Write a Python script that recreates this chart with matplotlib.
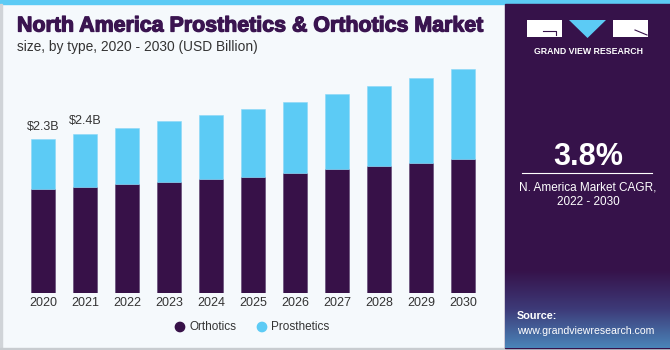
import numpy as np
import matplotlib.pyplot as plt
import matplotlib.patheffects as pe
from matplotlib.patches import Rectangle, Polygon
from matplotlib.colors import LinearSegmentedColormap

years = ['2020', '2021', '2022', '2023', '2024', '2025', '2026', '2027', '2028', '2029', '2030']
orthotics = [1.56, 1.59, 1.63, 1.66, 1.71, 1.74, 1.80, 1.85, 1.90, 1.95, 2.01]
prosthetics = [0.74, 0.79, 0.84, 0.91, 0.95, 1.02, 1.06, 1.13, 1.20, 1.27, 1.34]
bar_labels = {0: '$2.3B', 1: '$2.4B'}

DARK = '#371148'
BLUE = '#5ccbf5'
BG = '#f5f9fc'

plt.rcParams['font.family'] = ['Liberation Sans', 'DejaVu Sans']

W, H = 670, 350
fig = plt.figure(figsize=(W / 100, H / 100), dpi=100, facecolor=BG)

# background / decoration layer in pixel coords
bg = fig.add_axes([0, 0, 1, 1])
bg.set_xlim(0, W)
bg.set_ylim(H, 0)
bg.axis('off')
bg.add_patch(Rectangle((0, 0), W, 4, color=BLUE))
bg.add_patch(Rectangle((0, 4), 2, H - 4, color='#d0d4d8'))
bg.add_patch(Rectangle((0, H - 2), W, 2, color='#c8ccd0'))

# right panel
bg.add_patch(Rectangle((505, 4), 165, H - 6, color='#36124a'))
grad = np.linspace(0, 1, 100).reshape(-1, 1)
cm = LinearSegmentedColormap.from_list('p', ['#36124a', '#3d3a78', '#4a84b8'])
bg.imshow(grad, extent=(505, 670, H - 2, 270), cmap=cm, aspect='auto', zorder=1)

# logo
bg.add_patch(Rectangle((527, 20), 35, 17, facecolor='white', edgecolor='none', zorder=2))
bg.add_patch(Polygon([(569, 20), (606, 20), (587.5, 38)], facecolor=BLUE, edgecolor='none', zorder=2))
bg.add_patch(Rectangle((613, 20), 35, 17, facecolor='white', edgecolor='none', zorder=2))
bg.plot([543, 556, 556], [31, 31, 35], color='#36124a', lw=0.8, zorder=3)
bg.plot([635, 647], [30, 35], color='#36124a', lw=0.8, zorder=3)
bg.text(588, 51, 'GRAND VIEW RESEARCH', color='white', fontsize=6.3, fontweight='bold',
        ha='center', va='center', zorder=3)

bg.text(588, 157, '3.8%', color='white', fontsize=22, fontweight='bold', ha='center', va='center', zorder=3)
bg.plot([522, 652], [173, 173], color='white', lw=0.8, zorder=3)
bg.text(588, 187, 'N. America Market CAGR,', color='white', fontsize=8.5, ha='center', va='center', zorder=3)
bg.text(588, 202, '2022 - 2030', color='white', fontsize=8.5, ha='center', va='center', zorder=3)
bg.text(517, 316, 'Source:', color='white', fontsize=7.8, fontweight='bold', ha='left', va='center', zorder=3)
bg.text(517, 331, 'www.grandviewresearch.com', color='white', fontsize=7.6, ha='left', va='center', zorder=3)

# titles
bg.text(17, 26, 'North America Prosthetics & Orthotics Market', color='#3a1450', fontsize=15.4,
        fontweight='bold', ha='left', va='center',
        path_effects=[pe.withStroke(linewidth=0.9, foreground='#3a1450')])
bg.text(17, 47, 'size, by type, 2020 - 2030 (USD Billion)', color='#333333', fontsize=9.9,
        ha='left', va='center')

# legend
bg.scatter([180, 262], [327, 327], s=45, color=[DARK, BLUE], zorder=3)
bg.text(189, 327, 'Orthotics', color='#333333', fontsize=8.5, ha='left', va='center')
bg.text(271, 327, 'Prosthetics', color='#333333', fontsize=8.5, ha='left', va='center')

# bar chart
ymax = 3.6
base_px, px_per = 293, 66.8
top_px = base_px - ymax * px_per
ax = fig.add_axes([22 / W, (H - base_px) / H, (484 - 22) / W, (base_px - top_px) / H])
ax.set_facecolor('none')
x = np.arange(len(years))
ax.bar(x, orthotics, width=0.57, color=DARK, edgecolor='#5a4070', linewidth=0.4)
ax.bar(x, prosthetics, bottom=orthotics, width=0.57, color=BLUE, edgecolor='#8ad8f7', linewidth=0.4)
for i, lab in bar_labels.items():
    tot = orthotics[i] + prosthetics[i]
    ax.text(x[i], tot + 0.1, lab, ha='center', va='bottom', fontsize=9, color='#333333')
ax.set_xlim(-0.5, len(years) - 0.5)
ax.set_ylim(0, ymax)
ax.set_xticks(x)
ax.set_xticklabels(years, fontsize=9, color='#333333')
ax.tick_params(axis='x', length=0, pad=3)
ax.set_yticks([])
for s in ax.spines.values():
    s.set_visible(False)

fig.savefig('out.png', dpi=100, facecolor=BG)
